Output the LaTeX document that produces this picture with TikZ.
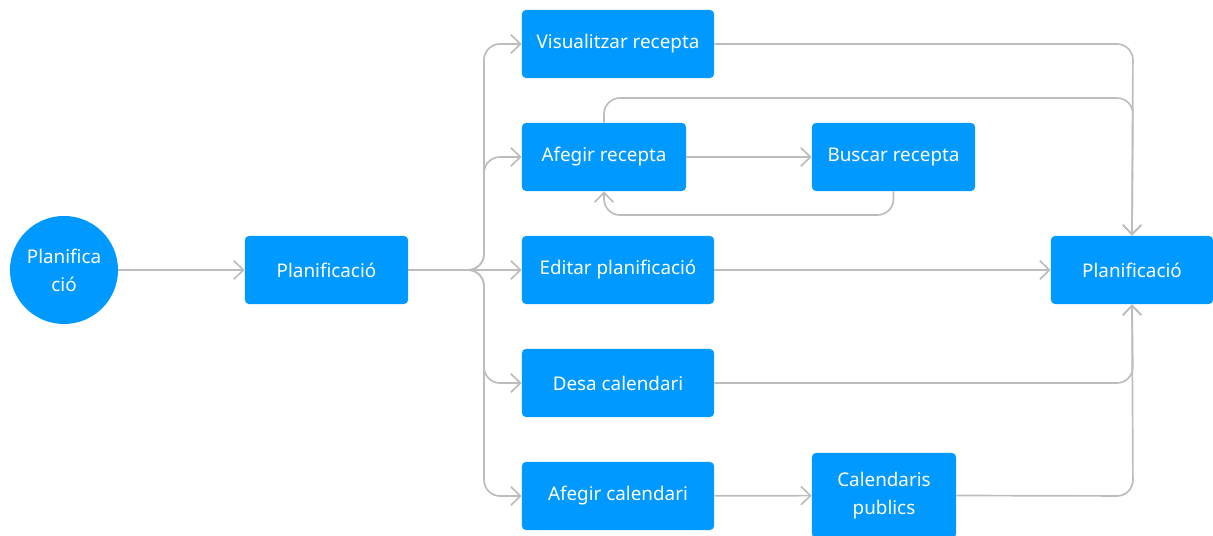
\documentclass[tikz,border=0pt]{standalone}
\usepackage{fontspec}
\setmainfont{Noto Sans}
\usetikzlibrary{arrows.meta}
\definecolor{flowblue}{HTML}{0099FF}
\definecolor{flowgrey}{HTML}{BDBDBD}

\begin{document}
\begin{tikzpicture}[x=0.025cm,y=-0.025cm,>={Straight Barb[length=0.24cm,width=0.46cm]},font=\fontsize{13.4}{20}\selectfont]
    \tikzset{box/.style={
      fill=flowblue, text=white, rounded corners=0.1cm, minimum height=1.7cm, inner sep=0pt, align=center
    },
    link/.style={draw=flowgrey, line width=1.2pt, rounded corners=0.4cm}}
    \useasboundingbox (0,0) rectangle (1213,536);
    % Start
    \node[circle, fill=flowblue, text=white, minimum size=2.7cm, inner sep=0pt, align=center] (start) at (64,270) {Planifica\\ció};
    \node[box, minimum width=4.075cm] (plan)   at (326.5,270) {Planificació};
    % Middle column
    \node[box, minimum width=4.8cm]   (visual) at (618,44)    {Visualitzar recepta};
    \node[box, minimum width=4.1cm]   (addrec) at (604,157)   {Afegir recepta};
    \node[box, minimum width=4.8cm]   (edit)   at (618,270)   {Editar planificació};
    \node[box, minimum width=4.8cm]   (save)   at (618,383)   {Desa calendari};
    \node[box, minimum width=4.8cm]   (addcal) at (618,496)   {Afegir calendari};
    % Right column
    \node[box, minimum width=4.075cm] (search) at (893.5,157) {Buscar recepta};
    \node[box, minimum width=3.6cm, minimum height=2.125cm] (public) at (884,495.5) {Calendaris\\publics};
    \node[box, minimum width=4.05cm] (planR)  at (1132,270)  {Planificació};

    % Arrows
    \draw[link,->] (start) -- (plan);
    \draw[link,->] (plan.east) -- (484,270) -- (484,44) -- (visual.west);
    \draw[link,->] (plan.east) -- (484,270) -- (484,157) -- (addrec.west);
    \draw[link,->] (plan.east) -- (edit.west);
    \draw[link,->] (plan.east) -- (484,270) -- (484,383) -- (save.west);
    \draw[link,->] (plan.east) -- (484,270) -- (484,496) -- (addcal.west);
    \draw[link,->] (addrec) -- (search);
    \draw[link,->] (search.south) -- (893.5,215) -- (604,215) -- (addrec.south);
    \draw[link,->] (addcal) -- (public);
    \draw[link,->] (visual.east) -- (1133,44) -- (planR.north);
    \draw[link,->] (addrec.north) -- (604,98) -- (1133,98) -- (planR.north);
    \draw[link,->] (edit) -- (planR);
    \draw[link,->] (save.east) -- (1133,383) -- (planR.south);
    \draw[link,->] (public.east) -- (1133,496) -- (planR.south);
\end{tikzpicture}
\end{document}
